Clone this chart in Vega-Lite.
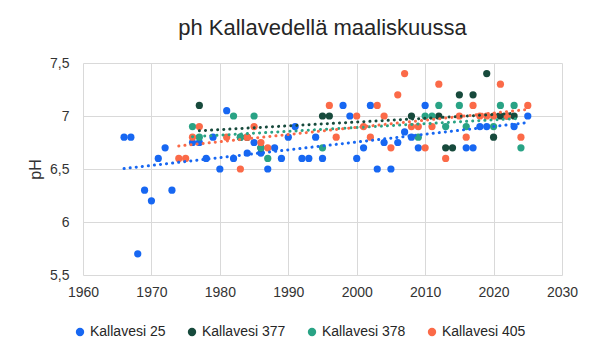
{
  "$schema": "https://vega.github.io/schema/vega-lite/v6.json",
  "autosize": "none",
  "width": 479,
  "height": 212,
  "padding": {"left": 83, "top": 63, "right": 38, "bottom": 83},
  "background": "white",
  "title": {"text": "ph Kallavedellä maaliskuussa", "fontSize": 22, "font": "Liberation Sans", "fontWeight": "normal", "color": "#262626", "offset": 16, "anchor": "middle"},
  "config": {
    "view": {"stroke": null},
    "font": "Liberation Sans",
    "axis": {"labelFont": "Liberation Sans", "labelFontSize": 14, "labelColor": "#333333", "titleFont": "Liberation Sans", "titleColor": "#333333", "gridColor": "#d9d9d9", "gridWidth": 1, "domain": false, "ticks": false},
    "legend": {"labelFont": "Liberation Sans", "labelFontSize": 14, "labelColor": "#262626"}
  },
  "data": {"values": [
    {"series": "Kallavesi 25", "year": 1966, "pH": 6.8},
    {"series": "Kallavesi 25", "year": 1967, "pH": 6.8},
    {"series": "Kallavesi 25", "year": 1968, "pH": 5.7},
    {"series": "Kallavesi 25", "year": 1969, "pH": 6.3},
    {"series": "Kallavesi 25", "year": 1970, "pH": 6.2},
    {"series": "Kallavesi 25", "year": 1971, "pH": 6.6},
    {"series": "Kallavesi 25", "year": 1972, "pH": 6.7},
    {"series": "Kallavesi 25", "year": 1973, "pH": 6.3},
    {"series": "Kallavesi 25", "year": 1976, "pH": 6.75},
    {"series": "Kallavesi 25", "year": 1977, "pH": 6.75},
    {"series": "Kallavesi 25", "year": 1978, "pH": 6.6},
    {"series": "Kallavesi 25", "year": 1979, "pH": 6.8},
    {"series": "Kallavesi 25", "year": 1980, "pH": 6.5},
    {"series": "Kallavesi 25", "year": 1981, "pH": 7.05},
    {"series": "Kallavesi 25", "year": 1982, "pH": 6.6},
    {"series": "Kallavesi 25", "year": 1984, "pH": 6.65},
    {"series": "Kallavesi 25", "year": 1985, "pH": 6.75},
    {"series": "Kallavesi 25", "year": 1986, "pH": 6.65},
    {"series": "Kallavesi 25", "year": 1987, "pH": 6.5},
    {"series": "Kallavesi 25", "year": 1988, "pH": 6.7},
    {"series": "Kallavesi 25", "year": 1989, "pH": 6.6},
    {"series": "Kallavesi 25", "year": 1990, "pH": 6.8},
    {"series": "Kallavesi 25", "year": 1991, "pH": 6.9},
    {"series": "Kallavesi 25", "year": 1992, "pH": 6.6},
    {"series": "Kallavesi 25", "year": 1993, "pH": 6.6},
    {"series": "Kallavesi 25", "year": 1994, "pH": 6.8},
    {"series": "Kallavesi 25", "year": 1995, "pH": 6.6},
    {"series": "Kallavesi 25", "year": 1998, "pH": 7.1},
    {"series": "Kallavesi 25", "year": 1999, "pH": 7.0},
    {"series": "Kallavesi 25", "year": 2000, "pH": 6.6},
    {"series": "Kallavesi 25", "year": 2001, "pH": 6.7},
    {"series": "Kallavesi 25", "year": 2002, "pH": 7.1},
    {"series": "Kallavesi 25", "year": 2003, "pH": 6.5},
    {"series": "Kallavesi 25", "year": 2004, "pH": 6.75},
    {"series": "Kallavesi 25", "year": 2005, "pH": 6.5},
    {"series": "Kallavesi 25", "year": 2006, "pH": 6.75},
    {"series": "Kallavesi 25", "year": 2007, "pH": 6.85},
    {"series": "Kallavesi 25", "year": 2008, "pH": 6.8},
    {"series": "Kallavesi 25", "year": 2009, "pH": 6.7},
    {"series": "Kallavesi 25", "year": 2010, "pH": 7.1},
    {"series": "Kallavesi 25", "year": 2016, "pH": 6.7},
    {"series": "Kallavesi 25", "year": 2017, "pH": 6.7},
    {"series": "Kallavesi 25", "year": 2018, "pH": 6.9},
    {"series": "Kallavesi 25", "year": 2019, "pH": 6.9},
    {"series": "Kallavesi 25", "year": 2023, "pH": 6.9},
    {"series": "Kallavesi 25", "year": 2025, "pH": 7.0},
    {"series": "Kallavesi 377", "year": 1977, "pH": 7.1},
    {"series": "Kallavesi 377", "year": 1983, "pH": 6.8},
    {"series": "Kallavesi 377", "year": 1984, "pH": 6.8},
    {"series": "Kallavesi 377", "year": 1986, "pH": 6.7},
    {"series": "Kallavesi 377", "year": 1995, "pH": 7.0},
    {"series": "Kallavesi 377", "year": 1996, "pH": 7.0},
    {"series": "Kallavesi 377", "year": 2008, "pH": 7.0},
    {"series": "Kallavesi 377", "year": 2012, "pH": 7.0},
    {"series": "Kallavesi 377", "year": 2013, "pH": 6.7},
    {"series": "Kallavesi 377", "year": 2014, "pH": 6.7},
    {"series": "Kallavesi 377", "year": 2015, "pH": 7.2},
    {"series": "Kallavesi 377", "year": 2017, "pH": 7.2},
    {"series": "Kallavesi 377", "year": 2019, "pH": 7.4},
    {"series": "Kallavesi 377", "year": 2020, "pH": 6.8},
    {"series": "Kallavesi 377", "year": 2021, "pH": 7.0},
    {"series": "Kallavesi 377", "year": 2022, "pH": 7.0},
    {"series": "Kallavesi 377", "year": 2023, "pH": 7.0},
    {"series": "Kallavesi 378", "year": 1976, "pH": 6.9},
    {"series": "Kallavesi 378", "year": 1977, "pH": 6.8},
    {"series": "Kallavesi 378", "year": 1982, "pH": 7.0},
    {"series": "Kallavesi 378", "year": 1983, "pH": 6.8},
    {"series": "Kallavesi 378", "year": 1985, "pH": 7.0},
    {"series": "Kallavesi 378", "year": 1986, "pH": 6.7},
    {"series": "Kallavesi 378", "year": 1987, "pH": 6.6},
    {"series": "Kallavesi 378", "year": 1995, "pH": 6.7},
    {"series": "Kallavesi 378", "year": 2009, "pH": 6.8},
    {"series": "Kallavesi 378", "year": 2010, "pH": 7.0},
    {"series": "Kallavesi 378", "year": 2011, "pH": 7.0},
    {"series": "Kallavesi 378", "year": 2012, "pH": 7.1},
    {"series": "Kallavesi 378", "year": 2013, "pH": 6.9},
    {"series": "Kallavesi 378", "year": 2015, "pH": 7.1},
    {"series": "Kallavesi 378", "year": 2016, "pH": 6.9},
    {"series": "Kallavesi 378", "year": 2020, "pH": 6.9},
    {"series": "Kallavesi 378", "year": 2021, "pH": 7.1},
    {"series": "Kallavesi 378", "year": 2023, "pH": 7.1},
    {"series": "Kallavesi 378", "year": 2024, "pH": 6.7},
    {"series": "Kallavesi 405", "year": 1974, "pH": 6.6},
    {"series": "Kallavesi 405", "year": 1975, "pH": 6.6},
    {"series": "Kallavesi 405", "year": 1976, "pH": 6.8},
    {"series": "Kallavesi 405", "year": 1977, "pH": 6.9},
    {"series": "Kallavesi 405", "year": 1981, "pH": 6.8},
    {"series": "Kallavesi 405", "year": 1983, "pH": 6.5},
    {"series": "Kallavesi 405", "year": 1984, "pH": 6.8},
    {"series": "Kallavesi 405", "year": 1985, "pH": 6.9},
    {"series": "Kallavesi 405", "year": 1986, "pH": 6.75},
    {"series": "Kallavesi 405", "year": 1987, "pH": 6.7},
    {"series": "Kallavesi 405", "year": 1996, "pH": 7.1},
    {"series": "Kallavesi 405", "year": 1997, "pH": 6.8},
    {"series": "Kallavesi 405", "year": 2000, "pH": 7.0},
    {"series": "Kallavesi 405", "year": 2001, "pH": 6.9},
    {"series": "Kallavesi 405", "year": 2002, "pH": 6.8},
    {"series": "Kallavesi 405", "year": 2003, "pH": 7.1},
    {"series": "Kallavesi 405", "year": 2004, "pH": 7.0},
    {"series": "Kallavesi 405", "year": 2005, "pH": 6.7},
    {"series": "Kallavesi 405", "year": 2006, "pH": 7.2},
    {"series": "Kallavesi 405", "year": 2007, "pH": 7.4},
    {"series": "Kallavesi 405", "year": 2008, "pH": 6.9},
    {"series": "Kallavesi 405", "year": 2009, "pH": 6.9},
    {"series": "Kallavesi 405", "year": 2010, "pH": 6.7},
    {"series": "Kallavesi 405", "year": 2011, "pH": 6.9},
    {"series": "Kallavesi 405", "year": 2012, "pH": 7.3},
    {"series": "Kallavesi 405", "year": 2013, "pH": 6.6},
    {"series": "Kallavesi 405", "year": 2015, "pH": 7.0},
    {"series": "Kallavesi 405", "year": 2016, "pH": 6.8},
    {"series": "Kallavesi 405", "year": 2017, "pH": 7.1},
    {"series": "Kallavesi 405", "year": 2018, "pH": 7.0},
    {"series": "Kallavesi 405", "year": 2019, "pH": 7.0},
    {"series": "Kallavesi 405", "year": 2020, "pH": 7.0},
    {"series": "Kallavesi 405", "year": 2021, "pH": 7.3},
    {"series": "Kallavesi 405", "year": 2022, "pH": 7.0},
    {"series": "Kallavesi 405", "year": 2024, "pH": 6.8},
    {"series": "Kallavesi 405", "year": 2025, "pH": 7.1}
  ]},
  "encoding": {
    "x": {"field": "year", "type": "quantitative", "scale": {"domain": [1960, 2030], "nice": false, "zero": false},
      "axis": {"title": null, "values": [1960, 1970, 1980, 1990, 2000, 2010, 2020, 2030], "format": "d", "labelPadding": 10, "labelFlush": false}},
    "y": {"field": "pH", "type": "quantitative", "scale": {"domain": [5.5, 7.5], "nice": false, "zero": false},
      "axis": {"title": "pH", "titleFontSize": 16, "titleFontWeight": "normal", "titlePadding": 6, "values": [5.5, 6, 6.5, 7, 7.5], "labelExpr": "replace(format(datum.value, '.1~f'), '.', ',')", "labelPadding": 14}}
  },
  "layer": [
    {
      "mark": {"type": "point", "filled": true, "opacity": 1, "size": 52},
      "encoding": {
        "color": {"field": "series", "type": "nominal",
          "scale": {"domain": ["Kallavesi 25", "Kallavesi 377", "Kallavesi 378", "Kallavesi 405"], "range": ["#1767f2", "#174a3c", "#29a385", "#fb6a48"]},
          "legend": {"title": null, "orient": "none", "legendX": -10, "legendY": 262, "padding": 0, "direction": "horizontal", "symbolType": "circle", "symbolSize": 70, "symbolOpacity": 1, "columnPadding": 19, "labelOffset": 3}}
      }
    },
    {
      "transform": [{"regression": "pH", "on": "year", "groupby": ["series"]}],
      "mark": {"type": "line", "strokeDash": [0.1, 6], "strokeCap": "round", "strokeWidth": 3},
      "encoding": {
        "color": {"field": "series", "type": "nominal", "legend": null,
          "scale": {"domain": ["Kallavesi 25", "Kallavesi 377", "Kallavesi 378", "Kallavesi 405"], "range": ["#1767f2", "#174a3c", "#29a385", "#fb6a48"]}}
      }
    }
  ],
  "resolve": {"legend": {"color": "independent"}}
}
